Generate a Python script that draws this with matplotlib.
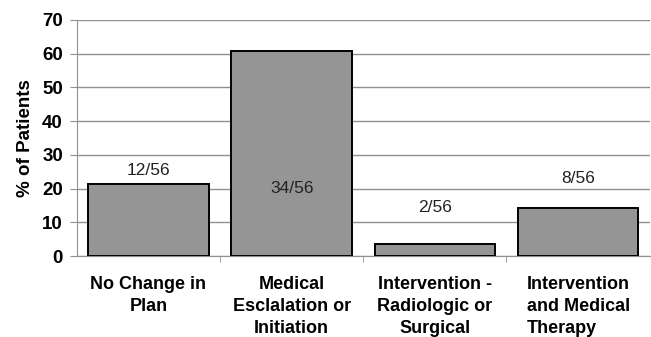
import matplotlib
matplotlib.use("Agg")
import matplotlib.pyplot as plt
import numpy as np

categories = ["No Change in\nPlan", "Medical\nEsclalation or\nInitiation",
              "Intervention -\nRadiologic or\nSurgical", "Intervention\nand Medical\nTherapy"]
percent = [21.4, 60.7, 3.6, 14.3]
counts = ["12/56", "34/56", "2/56", "8/56"]
label_y = [25.5, 20.0, 14.5, 23.0]

plt.rcParams['font.family'] = ['Liberation Sans', 'DejaVu Sans']

fig = plt.figure(figsize=(6.51, 3.37), dpi=100)
ax = fig.add_axes([0.118, 0.240, 0.880, 0.701])

x = np.arange(len(categories))
ax.bar(x, percent, width=0.84, color='#959595', edgecolor='black', linewidth=1.4, zorder=3)

for xi, txt, yy in zip(x, counts, label_y):
    ax.text(xi, yy, txt, ha='center', va='center', fontsize=12.5, color='#222222', zorder=4)

ax.set_xlim(-0.5, len(categories) - 0.5)
ax.set_ylim(0, 70)
ax.set_yticks(range(0, 71, 10))
ax.yaxis.grid(True, color='#909090', linewidth=1.0, zorder=0)
ax.set_axisbelow(True)

ax.set_xticks(x)
ax.set_xticklabels(categories, fontsize=13, fontweight='bold', linespacing=1.42)
ax.get_xticklabels()[3].set_multialignment('left')
ax.tick_params(axis='x', length=0, pad=14)
ax.set_xticks(np.arange(0.5, len(categories) - 0.5, 1), minor=True)
ax.tick_params(axis='x', which='minor', length=4, color='#909090', direction='out')
ax.tick_params(axis='y', labelsize=13.5, length=5, color='#909090', pad=5)
for lab in ax.get_yticklabels():
    lab.set_fontweight('bold')

ax.set_ylabel('% of Patients', fontsize=13.5, fontweight='bold', labelpad=6)

for side in ['top', 'right']:
    ax.spines[side].set_visible(False)
ax.spines['left'].set_color('#909090')
ax.spines['bottom'].set_color('#909090')

fig.savefig('out.png', dpi=100)
